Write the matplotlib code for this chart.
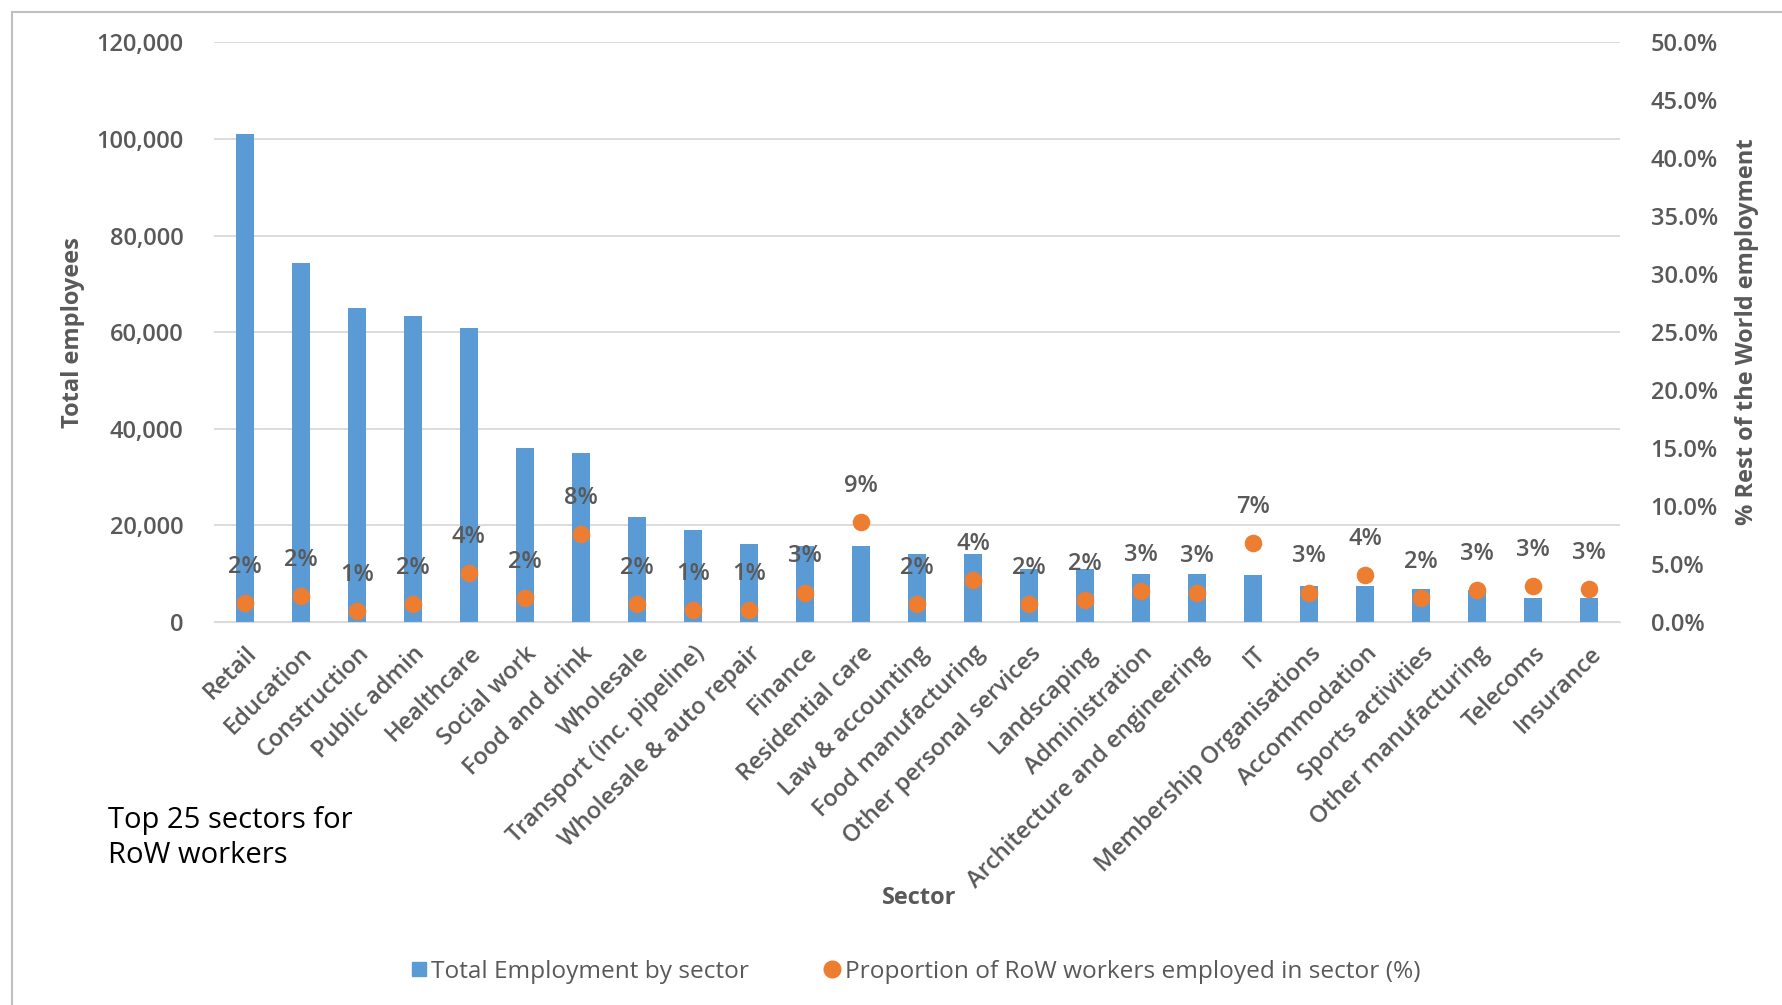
import matplotlib
matplotlib.use("Agg")
import matplotlib.pyplot as plt
from matplotlib.ticker import FuncFormatter, MultipleLocator
from matplotlib.patches import Rectangle
from matplotlib.lines import Line2D

# sectors, total employees and share of RoW workers
sectors = ["Retail", "Education", "Construction", "Public admin", "Healthcare",
           "Social work", "Food and drink", "Wholesale", "Transport (inc. pipeline)",
           "Wholesale & auto repair", "Finance", "Residential care", "Law & accounting",
           "Food manufacturing", "Other personal services", "Landscaping",
           "Administration", "Architecture and engineering", "IT",
           "Membership Organisations", "Accommodation", "Sports activities",
           "Other manufacturing", "Telecoms", "Insurance"]
employees = [101000, 74400, 64900, 63300, 60800, 36000, 35000, 21700, 19000,
             16200, 15700, 15700, 14000, 14000, 11000, 11000, 9900, 9900, 9700,
             7400, 7400, 6900, 6600, 5000, 5000]
row_share = [0.0167, 0.0224, 0.0095, 0.0155, 0.042, 0.021, 0.076, 0.0155, 0.010,
             0.010, 0.0255, 0.086, 0.0155, 0.0365, 0.0155, 0.0193, 0.0267, 0.0255,
             0.0684, 0.0255, 0.0408, 0.021, 0.0273, 0.031, 0.0284]

BLUE = "#5B9BD5"
ORANGE = "#ED7D31"
GREY = "#595959"
FONT = ["Open Sans", "DejaVu Sans"]

plt.rcParams['font.family'] = FONT

fig = plt.figure(figsize=(17.83, 10.05), dpi=100)
ax = fig.add_axes([0.120, 0.381, 0.7886, 0.577])
ax2 = ax.twinx()

x = list(range(len(sectors)))
ax.bar(x, employees, width=0.32, color=BLUE, zorder=2)
ax.set_zorder(1)
ax2.set_zorder(2)
ax.patch.set_visible(False)

ax2.scatter(x, row_share, s=160, color=ORANGE, zorder=3, linewidths=0)
for xi, v in zip(x, row_share):
    ax2.annotate(f"{v*100:.0f}%", (xi, v), xytext=(0, 26), textcoords="offset points",
                 ha="center", va="center", fontsize=17, color=GREY, weight="semibold")

ax.set_xlim(-0.55, len(sectors) - 0.45)
ax.set_ylim(0, 120000)
ax2.set_ylim(0, 0.5)
ax.yaxis.set_major_locator(MultipleLocator(20000))
ax2.yaxis.set_major_locator(MultipleLocator(0.05))
ax.yaxis.set_major_formatter(FuncFormatter(lambda v, p: f"{v:,.0f}"))
ax2.yaxis.set_major_formatter(FuncFormatter(lambda v, p: f"{v*100:.1f}%"))

ax.grid(axis="y", color="#D9D9D9", linewidth=1.3, zorder=0)
for a in (ax, ax2):
    for s in a.spines.values():
        s.set_visible(False)
    a.tick_params(length=0, labelsize=17, labelcolor=GREY)
ax.spines["bottom"].set_visible(True)
ax.spines["bottom"].set_color("#D9D9D9")
ax.tick_params(axis="y", pad=22)
ax2.tick_params(axis="y", pad=22)

ax.set_xticks(x)
ax.set_xticklabels(sectors, rotation=45, ha="right", rotation_mode="anchor",
                   fontsize=17, color=GREY, weight="semibold")
ax.tick_params(axis="x", pad=14)
for lab in ax.get_yticklabels() + ax2.get_yticklabels():
    lab.set_fontweight("semibold")

ax.set_ylabel("Total employees", fontsize=17, color=GREY, weight="bold", labelpad=8)
ax2.set_ylabel("% Rest of the World employment", fontsize=17, color=GREY,
               weight="bold", labelpad=12)
fig.text(0.5155, 0.106, "Sector", ha="center", va="center", fontsize=17,
         color=GREY, weight="bold")

fig.text(0.0605, 0.166, "Top 25 sectors for\nRoW workers", ha="left", va="center",
         fontsize=21, color="black", linespacing=1.3)

handles = [Line2D([], [], marker="s", linestyle="none", color=BLUE, markersize=10),
           Line2D([], [], marker="o", linestyle="none", color=ORANGE, markersize=12)]
fig.legend(handles, ["Total Employment by sector",
                     "Proportion of RoW workers employed in sector (%)"],
           loc="center", bbox_to_anchor=(0.513, 0.033), ncol=2, frameon=False,
           handletextpad=0.1, columnspacing=3.0, handlelength=0.8,
           prop={"size": 17.6}, labelcolor=GREY)

# outer chart frame
fig.patches.append(Rectangle((12 / 1783, -0.1), 1.2, 1.1 - 12 / 1005,
                             transform=fig.transFigure, fill=False,
                             edgecolor="#BFBFBF", linewidth=1.5))

fig.savefig("out.png", dpi=100)
